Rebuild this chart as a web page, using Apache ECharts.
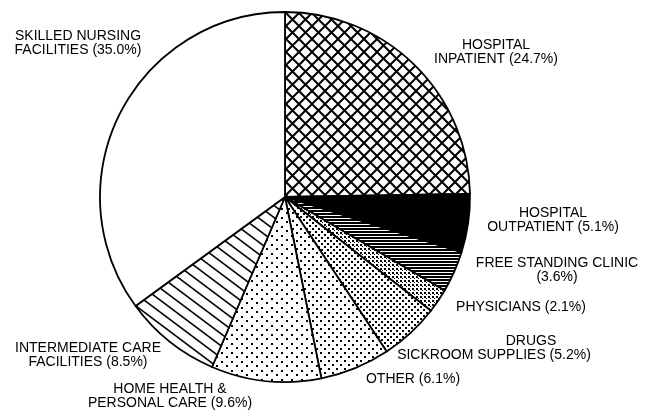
<!DOCTYPE html>
<html>
<head>
<meta charset="utf-8">
<script src="https://cdn.jsdelivr.net/npm/echarts@6/dist/echarts.min.js"></script>
<style>html,body{margin:0;padding:0;background:#fff}#c{width:662px;height:412px}</style>
</head>
<body>
<div id="c"></div>
<script>
// Data (clockwise from 12 o'clock)
const categories = [
  "HOSPITAL\nINPATIENT",
  "HOSPITAL\nOUTPATIENT",
  "FREE STANDING CLINIC\n",
  "PHYSICIANS",
  "                   DRUGS\nSICKROOM SUPPLIES",
  "OTHER",
  "HOME HEALTH &\nPERSONAL CARE",
  "INTERMEDIATE CARE\nFACILITIES",
  "SKILLED NURSING\nFACILITIES"
];
const shares = [24.7, 5.1, 3.6, 2.1, 5.2, 6.1, 9.6, 8.5, 35.0];

// label placement (style only)
const labelPos = [
  [496, 52], [553, 220], [557, 270], [521, 307], [494, 348],
  [413, 379], [170, 396], [88, 355], [78, 43]
];

function tile(w, h, draw) {
  const c = document.createElement('canvas');
  c.width = w; c.height = h;
  const g = c.getContext('2d');
  g.fillStyle = '#fff'; g.fillRect(0, 0, w, h);
  g.fillStyle = '#000'; g.strokeStyle = '#000';
  draw(g, w, h);
  return { image: c, repeat: 'repeat' };
}
const crossHatch = tile(13, 13, (g, w, h) => {
  g.lineWidth = 2;
  for (const dx of [-w, 0, w]) {
    g.beginPath(); g.moveTo(dx, 0); g.lineTo(dx + w, h); g.stroke();
    g.beginPath(); g.moveTo(dx + w, 0); g.lineTo(dx, h); g.stroke();
  }
});
const hLines = tile(4, 3, (g) => { g.fillRect(0, 0, 4, 2); });
const fineDots = tile(4, 4, (g) => { g.fillRect(0, 0, 2, 2); g.fillRect(2, 2, 1, 1); });
const dots5 = tile(6, 6, (g) => { g.fillRect(0, 0, 2, 2); g.fillRect(3, 3, 2, 2); });
const dots7 = tile(8, 8, (g) => { g.fillRect(0, 0, 2, 2); g.fillRect(4, 4, 2, 2); });
const dots10 = tile(10, 9, (g) => { g.fillRect(1, 1, 2, 2); g.fillRect(6, 5, 2, 2); });
const diag = tile(16, 12, (g, w, h) => {
  g.lineWidth = 1.6;
  for (const k of [-1, 0, 1]) {
    g.beginPath(); g.moveTo(k * w, k * h); g.lineTo(k * w + w, k * h + h); g.stroke();
    g.beginPath(); g.moveTo(k * w - w, k * h); g.lineTo(k * w, k * h + h); g.stroke();
    g.beginPath(); g.moveTo(k * w + w, k * h); g.lineTo(k * w + 2 * w, k * h + h); g.stroke();
  }
});
const fills = [crossHatch, '#000', hLines, fineDots, dots5, dots7, dots10, diag, '#fff'];

const chart = echarts.init(document.getElementById('c'), null, { renderer: 'canvas' });
chart.setOption({
  animation: false,
  backgroundColor: '#fff',
  series: [{
    type: 'pie',
    center: [285, 197],
    radius: [0, 185],
    startAngle: 90,
    clockwise: true,
    silent: true,
    data: categories.map((n, i) => ({
      name: n, value: shares[i],
      itemStyle: { color: fills[i] }
    })),
    itemStyle: { borderColor: '#000', borderWidth: 1.8 },
    label: {
      show: true,
      position: 'outside',
      color: '#000',
      fontFamily: 'Liberation Sans, Arial, sans-serif',
      fontSize: 14,
      lineHeight: 14,
      align: 'center',
      overflow: 'none',
      formatter: p => p.name + (p.name.endsWith('\n') ? '' : ' ') + '(' + p.value.toFixed(1) + '%)'
    },
    labelLine: { show: false },
    labelLayout: p => {
      const q = labelPos[p.dataIndex];
      return { x: q[0], y: q[1], align: 'center', verticalAlign: 'middle', hideOverlap: false };
    }
  }]
});
</script>
</body>
</html>
